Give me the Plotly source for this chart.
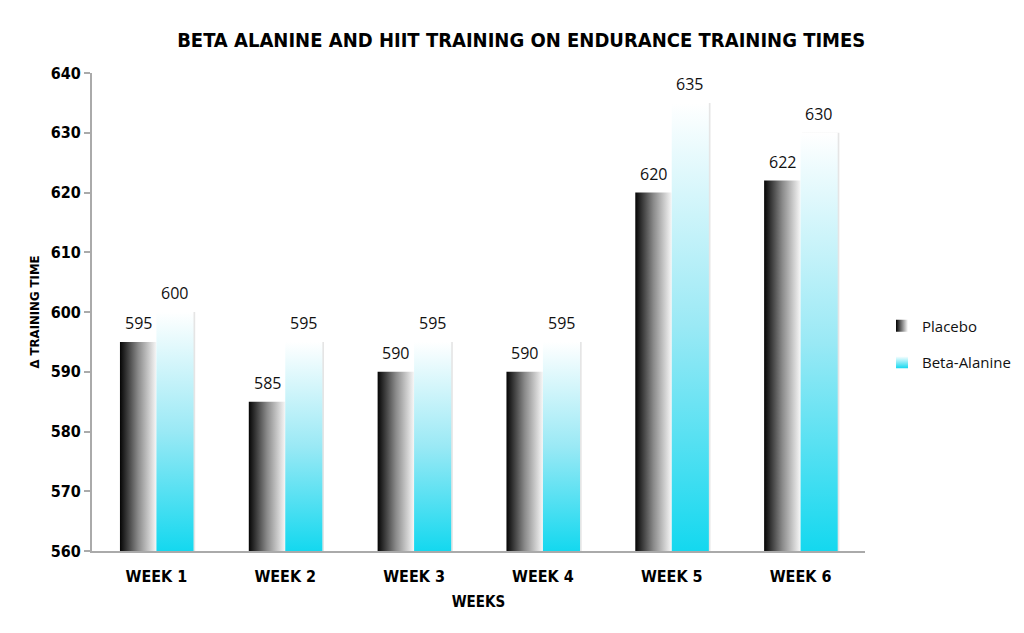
import plotly.graph_objects as go

weeks = ["WEEK 1", "WEEK 2", "WEEK 3", "WEEK 4", "WEEK 5", "WEEK 6"]
placebo = [595, 585, 590, 590, 620, 622]
beta = [600, 595, 595, 595, 635, 630]
y_min, y_max = 560, 640

BW = 0.283  # bar width in category units
COND = dict(family="DejaVu Sans Condensed, Liberation Sans Narrow, sans-serif",
            weight="bold", color="#000")
LABEL_FONT = "Open Sans, Noto Sans, sans-serif"

fig = go.Figure()

def rect(x0, x1, y0, y1):
    return [x0, x1, x1, x0, x0], [y0, y0, y1, y1, y0]

for i, (p, b) in enumerate(zip(placebo, beta)):
    xs, ys = rect(i + 0.012, i + BW + 0.018, y_min, b)
    fig.add_trace(go.Scatter(x=xs, y=ys, fill="toself", mode="lines",
                             line=dict(width=0), fillcolor="rgba(0,0,0,0.10)",
                             showlegend=False, hoverinfo="skip"))
    xs, ys = rect(i - BW, i, y_min, p)
    fig.add_trace(go.Scatter(
        x=xs, y=ys, fill="toself", mode="lines", line=dict(width=0),
        fillgradient=dict(type="horizontal",
                          colorscale=[[0, "#050505"], [0.5, "#8a8a8a"], [1, "#f7f7f7"]]),
        showlegend=False, hoverinfo="skip"))
    xs, ys = rect(i, i + BW + 0.005, y_min, b)
    fig.add_trace(go.Scatter(
        x=xs, y=ys, fill="toself", mode="lines", line=dict(width=0),
        fillgradient=dict(type="vertical",
                          colorscale=[[0, "#14d8ef"], [0.5, "#9ae9f5"], [1, "#ffffff"]]),
        showlegend=False, hoverinfo="skip"))

# legend entries
fig.add_trace(go.Scatter(x=[None], y=[None], mode="markers", name="Placebo",
                         legendgroup="p",
                         marker=dict(symbol="square", size=10, color="#000",
                                     gradient=dict(type="horizontal", color="#ffffff"),
                                     line=dict(width=0))))
fig.add_trace(go.Scatter(x=[None], y=[None], mode="markers", name="Beta-Alanine",
                         legendgroup="b",
                         marker=dict(symbol="square", size=10, color="#ffffff",
                                     gradient=dict(type="vertical", color="#14d8ef"),
                                     line=dict(width=0))))

xc = list(range(len(weeks)))
annotations = []
for i, v in enumerate(placebo):
    annotations.append(dict(x=xc[i] - BW / 2, y=v, text=str(v), showarrow=False,
                            xanchor="center", yanchor="bottom", yshift=6,
                            font=dict(family=LABEL_FONT, size=16, color="#111")))
for i, v in enumerate(beta):
    annotations.append(dict(x=xc[i] + BW / 2, y=v, text=str(v), showarrow=False,
                            xanchor="center", yanchor="bottom", yshift=6,
                            font=dict(family=LABEL_FONT, size=16, color="#111")))

fig.update_layout(
    width=1024, height=633,
    margin=dict(l=92, r=159, t=73, b=82, autoexpand=False),
    paper_bgcolor="white", plot_bgcolor="white",
    annotations=annotations,
    title=dict(text="BETA ALANINE AND HIIT TRAINING ON ENDURANCE TRAINING TIMES",
               x=0.509, xanchor="center", y=0.937, yanchor="middle",
               font=dict(**COND, size=20)),
    legend=dict(x=0.022, xref="paper", y=0.433, xanchor="left", yanchor="middle",
                font=dict(family=LABEL_FONT, size=15, color="#111"),
                tracegroupgap=14, itemwidth=30, itemsizing="constant"),
    xaxis=dict(range=[-0.5, 5.5], tickvals=xc, ticktext=weeks,
               showline=True, linecolor="#aaaaaa", linewidth=2,
               showgrid=False, zeroline=False, ticks="", ticklabelstandoff=10,
               tickfont=dict(**COND, size=16),
               title=dict(text="WEEKS", standoff=11,
                          font=dict(**COND, size=15))),
    yaxis=dict(range=[y_min, y_max], dtick=10, showline=True, linecolor="#aaaaaa",
               linewidth=2, showgrid=False, zeroline=False, ticks="outside",
               ticklen=6, tickcolor="#aaaaaa", tickwidth=1.5,
               tickfont=dict(**COND, size=16),
               title=dict(text="Δ TRAINING TIME", standoff=8,
                          font=dict(**COND, size=13))),
)
fig.layout.legend.x = 1.022

fig.write_html("out.html")
